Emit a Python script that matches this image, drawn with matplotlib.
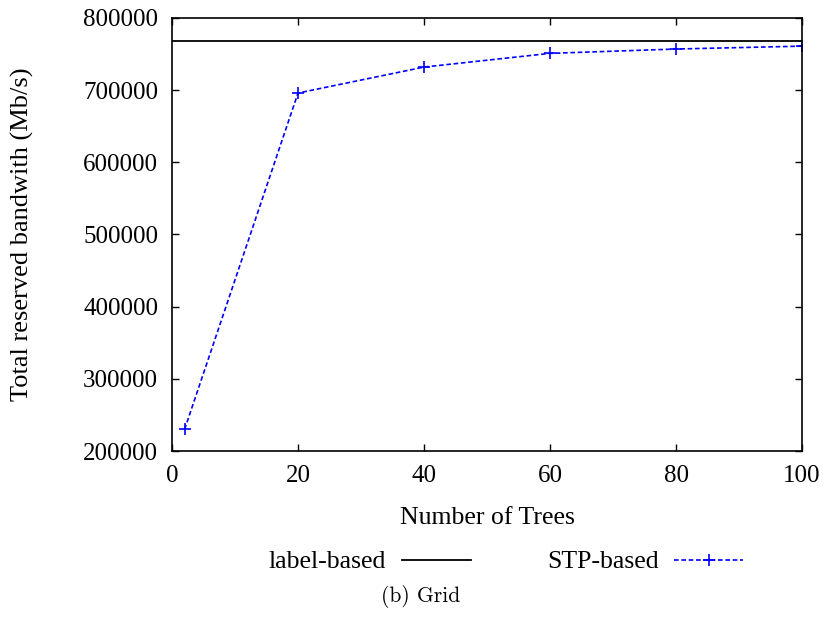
import matplotlib
matplotlib.use("Agg")
import matplotlib.pyplot as plt

trees = [2, 20, 40, 60, 80, 100]
stp_based = [230000, 696000, 732000, 751000, 757000, 761000]
label_based = 768000

plt.rcParams['font.family'] = ['Liberation Serif', 'DejaVu Serif']

fig = plt.figure(figsize=(8.3, 6.2), dpi=100)
ax = fig.add_axes([172/830, 1-451/620, 630/830, 433/620])

ax.axhline(label_based, color='black', lw=1.3, label='label-based')
ax.plot(trees, stp_based, color='#0000ff', lw=1.2, ls=(0, (2.8, 1.6)),
        marker='+', markersize=8, mew=1.2, label='STP-based')

ax.set_xlim(0, 100)
ax.set_ylim(200000, 800000)
ax.set_xticks([0, 20, 40, 60, 80, 100])
ax.set_yticks(range(200000, 800001, 100000))
ax.tick_params(direction='in', top=True, right=True, length=5, width=1,
               labelsize=18, pad=10)
for s in ax.spines.values():
    s.set_linewidth(1.2)

ax.set_xlabel('Number of Trees', fontsize=18.5)
ax.set_ylabel('Total reserved bandwith (Mb/s)', fontsize=19)
ax.xaxis.set_label_coords(0.5, (451-518)/433)
ax.yaxis.set_label_coords((22-172)/630, 0.5)
ax.xaxis.label.set_va('center')
ax.yaxis.label.set_va('center')

fig.legend(*ax.get_legend_handles_labels(), loc='center', ncol=2,
           bbox_to_anchor=(506/830, 1-562/620), frameon=False, fontsize=18.5,
           markerfirst=False, handlelength=2.68, columnspacing=2.95,
           handletextpad=0.62, borderpad=0, borderaxespad=0)

fig.text(421/830, 1-596/620, '(b) Grid', ha='center', va='center',
         fontsize=15.5, family='cmr10')

fig.savefig('out.png', dpi=100)
